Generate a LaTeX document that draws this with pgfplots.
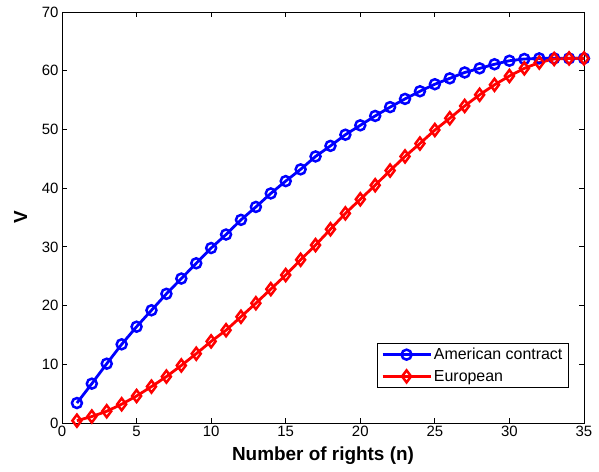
\documentclass[border=0pt]{standalone}
\usepackage{fontspec}
\setmainfont{Liberation Sans}
\usepackage{pgfplots}
\pgfplotsset{compat=1.18}
\begin{document}
\begin{tikzpicture}
\useasboundingbox (-62bp,-49bp) rectangle (537bp,423bp);
\begin{axis}[
  at={(0,0)}, anchor=south west,
  scale only axis, width=522bp, height=411bp,
  xmin=0, xmax=35, ymin=0, ymax=70,
  xtick={0,5,...,35}, ytick={0,10,...,70},
  tick align=inside, major tick length=5bp,
  axis line style={line width=0.9bp},
  every tick/.style={black, line width=0.9bp},
  tick label style={font=\fontsize{15}{17}\selectfont},
  /pgf/number format/assume math mode=true,
  xlabel={Number of rights (n)}, ylabel={V},
  label style={font=\fontsize{19}{21}\selectfont\bfseries},
  xlabel style={yshift=-3bp},
  ylabel style={yshift=8bp},
  legend style={at={(0.971,0.085)}, anchor=south east, font=\fontsize{16}{18}\selectfont,
    draw=black, line width=0.9bp, inner xsep=4bp, inner ysep=3bp, row sep=5bp, cells={anchor=west}},
  legend image code/.code={\draw[mark repeat=2, mark phase=2] plot coordinates {(0bp,0bp) (24bp,0bp) (48bp,0bp)};},
]
\addplot[blue, line width=2.8bp, mark=o, mark size=5bp, mark options={solid, line width=2.5bp}] coordinates {
(1,3.4) (2,6.7) (3,10.1) (4,13.4) (5,16.4) (6,19.2) (7,22.0) (8,24.6) (9,27.2) (10,29.8)
(11,32.1) (12,34.6) (13,36.8) (14,39.1) (15,41.2) (16,43.2) (17,45.4) (18,47.2) (19,49.1) (20,50.7)
(21,52.3) (22,53.8) (23,55.2) (24,56.5) (25,57.7) (26,58.7) (27,59.7) (28,60.4) (29,61.1) (30,61.7)
(31,62.0) (32,62.1) (33,62.1) (34,62.1) (35,62.1)
};
\addlegendentry{American contract}
\addplot[red, line width=2.8bp, mark=diamond, mark size=6bp, mark options={solid, line width=2.5bp}] coordinates {
(1,0.4) (2,1.1) (3,2.0) (4,3.2) (5,4.6) (6,6.2) (7,7.9) (8,9.8) (9,11.8) (10,13.9)
(11,15.8) (12,18.1) (13,20.4) (14,22.8) (15,25.2) (16,27.8) (17,30.3) (18,33.0) (19,35.7) (20,38.1)
(21,40.5) (22,43.0) (23,45.4) (24,47.6) (25,49.9) (26,51.9) (27,54.0) (28,55.9) (29,57.6) (30,59.1)
(31,60.4) (32,61.4) (33,62.0) (34,62.1) (35,62.1)
};
\addlegendentry{European}
\end{axis}
\end{tikzpicture}
\end{document}
